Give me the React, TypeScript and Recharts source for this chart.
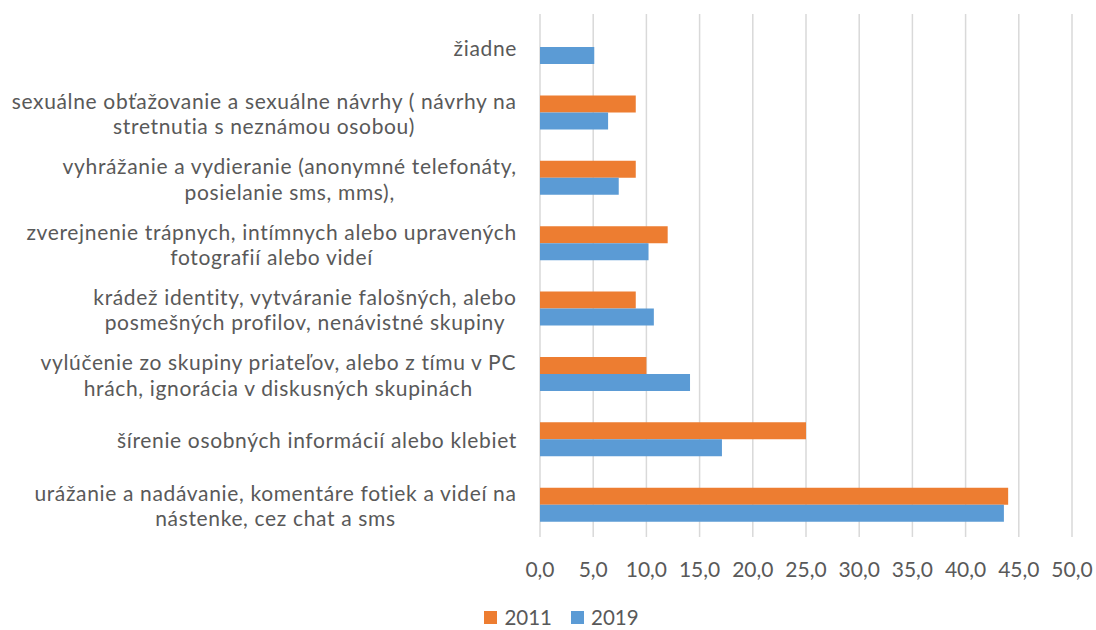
import { Bar, BarChart, CartesianGrid, Legend, XAxis, YAxis } from "recharts";

const categories = [
  "žiadne",
  "sexuálne obťažovanie a sexuálne návrhy ( návrhy na\nstretnutia s neznámou osobou)",
  "vyhrážanie a vydieranie (anonymné telefonáty,\nposielanie sms, mms),",
  "zverejnenie trápnych, intímnych alebo upravených\nfotografií alebo videí",
  "krádež identity, vytváranie falošných, alebo\nposmešných profilov, nenávistné skupiny",
  "vylúčenie zo skupiny priateľov, alebo z tímu v PC\nhrách, ignorácia v diskusných skupinách",
  "šírenie osobných informácií alebo klebiet",
  "urážanie a nadávanie, komentáre fotiek a videí na\nnástenke, cez chat a sms",
];
const values2011 = [null, 9.0, 9.0, 12.0, 9.0, 10.0, 25.0, 44.0];
const values2019 = [5.1, 6.4, 7.4, 10.2, 10.7, 14.1, 17.1, 43.6];
const xTicks = [0, 5, 10, 15, 20, 25, 30, 35, 40, 45, 50];

const series = [
  { key: "y2011", name: "2011", color: "#ED7D31" },
  { key: "y2019", name: "2019", color: "#5B9BD5" },
];

const data = categories.map((name, i) => ({
  name,
  y2011: values2011[i],
  y2019: values2019[i],
}));

const FONT = "Lato, sans-serif";
const TEXT = "#595959";
const CAT_SIZE = 21;
const CAT_SPACING = 0.65;

let ctx: CanvasRenderingContext2D | null = null;
function measure(s: string, size: number) {
  if (!ctx) ctx = document.createElement("canvas").getContext("2d");
  if (!ctx) return s.length * size * 0.5;
  ctx.font = `${size}px Lato`;
  return ctx.measureText(s).width + s.length * CAT_SPACING;
}

function CategoryTick({ x, y, payload }: any) {
  const lines = String(payload.value).split("\n");
  const widest = Math.max(...lines.map((l) => measure(l, CAT_SIZE)));
  const cx = x - 23 - widest / 2;
  const lh = 25.3;
  const start = -((lines.length - 1) * lh) / 2 + 1;
  return (
    <g>
      {lines.map((l, i) => (
        <text
          key={i}
          x={cx}
          y={y + start + i * lh}
          textAnchor="middle"
          dominantBaseline="central"
          fill={TEXT}
          fontSize={CAT_SIZE}
          fontFamily={FONT}
          letterSpacing={CAT_SPACING}
        >
          {l}
        </text>
      ))}
    </g>
  );
}

function ValueTick({ x, y, payload }: any) {
  return (
    <text x={x} y={y + 31} textAnchor="middle" dominantBaseline="central" fill={TEXT} fontSize={21} fontFamily={FONT}>
      {Number(payload.value).toFixed(1).replace(".", ",")}
    </text>
  );
}

function LegendBox() {
  return (
    <div
      style={{
        display: "flex",
        justifyContent: "center",
        alignItems: "center",
        height: 22,
        paddingLeft: 46,
        fontFamily: FONT,
        fontSize: 20.5,
        lineHeight: "22px",
        color: TEXT,
      }}
    >
      {series.map((s) => (
        <div key={s.key} style={{ display: "flex", alignItems: "center", marginRight: 19 }}>
          <span style={{ width: 13, height: 13, background: s.color, marginRight: 7 }} />
          <span>{s.name}</span>
        </div>
      ))}
    </div>
  );
}

export default function App() {
  return (
    <div style={{ position: "absolute", left: 0, top: 0, width: 1096, height: 630, background: "#fff" }}>
      <BarChart
        width={1096}
        height={630}
        data={data}
        layout="vertical"
        margin={{ top: 14, right: 24, bottom: 0, left: 0 }}
        barGap={0}
        barSize={17}
      >
        <CartesianGrid horizontal={false} stroke="#d9d9d9" strokeWidth={1.5} />
        <XAxis
          type="number"
          domain={[0, 50]}
          ticks={xTicks}
          axisLine={false}
          tickLine={false}
          tickSize={0}
          tickMargin={0}
          height={71}
          tick={<ValueTick />}
          interval={0}
        />
        <YAxis
          type="category"
          dataKey="name"
          width={540}
          axisLine={false}
          tickLine={false}
          tickSize={0}
          tickMargin={0}
          tick={<CategoryTick />}
          interval={0}
        />
        <Legend
          verticalAlign="bottom"
          content={<LegendBox />}
          wrapperStyle={{ top: 606, left: 0, width: 1096, height: 22 }}
        />
        {series.map((s) => (
          <Bar key={s.key} dataKey={s.key} name={s.name} fill={s.color} isAnimationActive={false} />
        ))}
      </BarChart>
    </div>
  );
}
